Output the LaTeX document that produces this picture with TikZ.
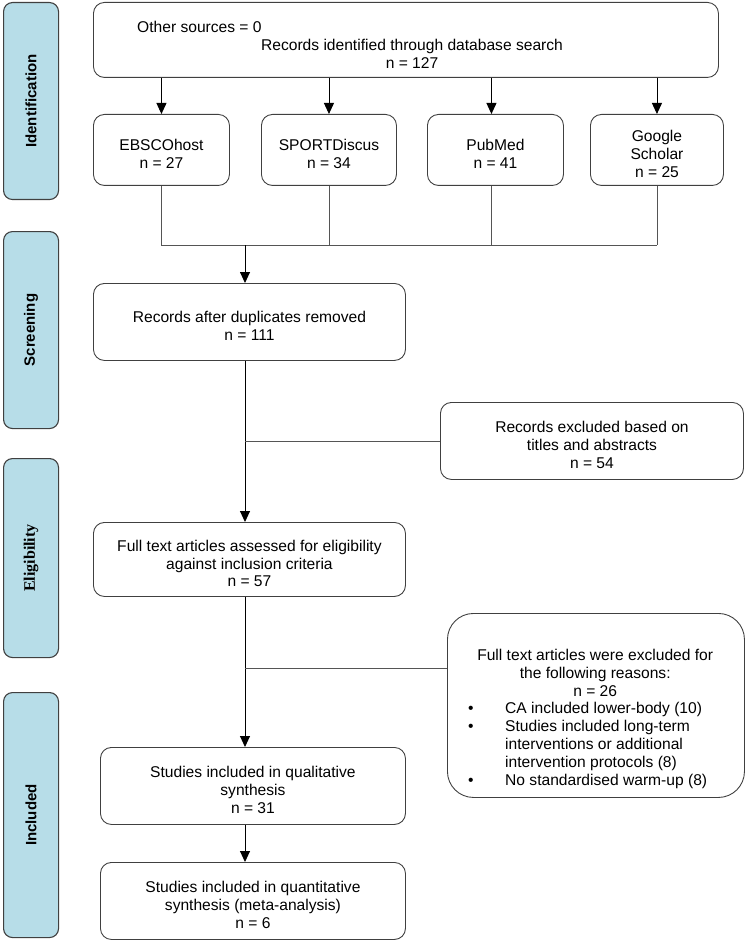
\documentclass[tikz,border=0pt]{standalone}
\usepackage{fontspec}
\setmainfont{Liberation Sans}
\newfontfamily\serifbold{Liberation Serif}
\usetikzlibrary{arrows.meta}
\definecolor{barblue}{RGB}{183,221,232}
\definecolor{edgegray}{RGB}{64,64,64}
\definecolor{conngray}{RGB}{85,85,85}
\newcommand\boxtext[2]{\node[txt] (#1t) at ([shift={(0,4)}]#1.center) {#2};}
\begin{document}
\begin{tikzpicture}[x=1pt,y=-1pt,
  bar/.style={draw=edgegray, line width=1.1pt, fill=barblue, rounded corners=9pt, anchor=north west, inner sep=0pt, minimum width=55pt},
  barlabel/.style={rotate=90, font=\fontsize{15}{18}\selectfont\bfseries},
  box/.style={draw=edgegray, line width=0.9pt, rounded corners=11pt, anchor=north west, inner sep=0pt},
  txt/.style={inner sep=0pt, align=center, font=\fontsize{15.6}{17.8}\selectfont},
  conn/.style={draw=conngray, line width=0.9pt},
  arr/.style={draw=black, line width=0.9pt, -{Triangle[width=10pt,length=11pt]}}
]
\useasboundingbox (0,0) rectangle (751,941);

% side bars
\node[bar, minimum height=197pt] (idbar) at (3,2) {};
\node[barlabel] (idlab) at (idbar.center) {Identification};
\node[bar, minimum height=197pt] (scbar) at (3,231) {};
\node[barlabel] (sclab) at (scbar.center) {Screening};
\node[bar, minimum height=199pt] (elbar) at (3,458) {};
\node[barlabel, font=\fontsize{16}{18}\selectfont\serifbold\bfseries] (ellab) at (elbar.center) {Eligibility};
\node[bar, minimum height=245pt] (inbar) at (3,692) {};
\node[barlabel] (inlab) at (inbar.center) {Included};

% top box
\node[box, minimum width=625pt, minimum height=75pt] (top) at (93,2) {};
\node[txt, anchor=west] (other) at (137,27) {Other sources = 0};
\node[txt] (recid) at (412,54) {Records identified through database search\\n = 127};

% source boxes
\node[box, minimum width=136pt, minimum height=71pt] (ebsco) at (93,114) {};
\boxtext{ebsco}{EBSCOhost\\n = 27}
\node[box, minimum width=135pt, minimum height=71pt] (sport) at (261,114) {};
\boxtext{sport}{SPORTDiscus\\n = 34}
\node[box, minimum width=136pt, minimum height=71pt] (pubmed) at (427,114) {};
\boxtext{pubmed}{PubMed\\n = 41}
\node[box, minimum width=133pt, minimum height=71pt] (google) at (590,114) {};
\boxtext{google}{Google\\Scholar\\n = 25}

\coordinate (bus) at (0,245);
\coordinate (pmx) at ([xshift=-4pt]pubmed.north);
\foreach \s in {ebsco,sport,google}{
  \draw[arr] (\s.north |- top.south) -- (\s.north);
  \draw[conn] (\s.south) -- (\s.south |- bus);
}
\draw[arr] (pmx |- top.south) -- (pmx |- pubmed.north);
\draw[conn] (pmx |- pubmed.south) -- (pmx |- bus);
\draw[conn] (ebsco.south |- bus) -- (google.south |- bus);

% screening
\node[box, minimum width=312pt, minimum height=77pt] (dup) at (93,283) {};
\boxtext{dup}{Records after duplicates removed\\n = 111}
\coordinate (spine) at (245,0);
\draw[arr] (spine |- bus) -- (spine |- dup.north);

\node[box, minimum width=303pt, minimum height=77pt] (excl1) at (440,402) {};
\boxtext{excl1}{Records excluded based on\\titles and abstracts\\n = 54}

% eligibility
\node[box, minimum width=312pt, minimum height=74pt] (full) at (93,522) {};
\boxtext{full}{Full text articles assessed for eligibility\\against inclusion criteria\\n = 57}
\draw[arr] (spine |- dup.south) -- (spine |- full.north);
\coordinate (b1) at (spine |- excl1.west);
\draw[conn] (b1) -- (excl1.west);

\node[box, rounded corners=26pt, minimum width=297pt, minimum height=184pt] (excl2) at (447,613) {};
\node[txt, anchor=north west, align=left] (excl2t) at (455,649) {%
\parbox{280pt}{\centering Full text articles were excluded for\\the following reasons:\\n = 26\par
\raggedright
\mbox{\makebox[50pt][l]{\hspace{13pt}\textbullet}CA included lower-body (10)}\\
\mbox{\makebox[50pt][l]{\hspace{13pt}\textbullet}Studies included long-term}\\
\mbox{\hspace*{50pt}interventions or additional}\\
\mbox{\hspace*{50pt}intervention protocols (8)}\\
\mbox{\makebox[50pt][l]{\hspace{13pt}\textbullet}No standardised warm-up (8)}}};

% included
\node[box, minimum width=305pt, minimum height=77pt] (qual) at (100,747) {};
\boxtext{qual}{Studies included in qualitative\\synthesis\\n = 31}
\draw[arr] (spine |- full.south) -- (spine |- qual.north);
\coordinate (b2) at (245,668);
\draw[conn] (b2) -- (b2 -| excl2.west);

\node[box, minimum width=305pt, minimum height=77pt] (quant) at (100,862) {};
\boxtext{quant}{Studies included in quantitative\\synthesis (meta-analysis)\\n = 6}
\draw[arr] (qual.south -| spine) -- (quant.north -| spine);
\end{tikzpicture}
\end{document}
